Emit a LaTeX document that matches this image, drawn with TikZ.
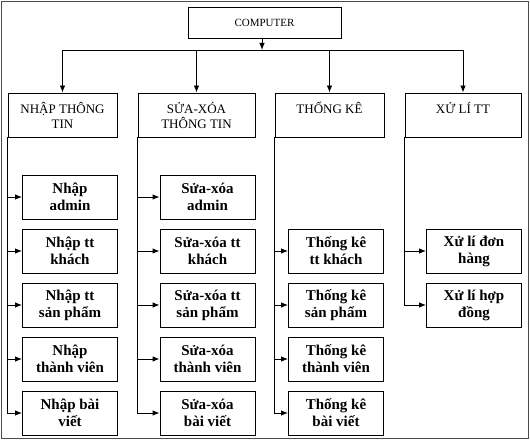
\documentclass[tikz,border=0pt]{standalone}
\usepackage{fontspec}
\setmainfont{Liberation Serif}
\usetikzlibrary{arrows.meta}
\tikzstyle{group}=[
        draw,
        line width=0.9pt,
        minimum width=109pt,
        minimum height=44pt,
        inner sep=0pt,
        align=center,
        font=\fontsize{13}{15}\selectfont
]
\tikzstyle{item}=[
        draw,
        line width=0.9pt,
        minimum width=95pt,
        minimum height=44pt,
        inner sep=0pt,
        align=center,
        font=\fontsize{15}{17}\selectfont\bfseries
]
\tikzstyle{link}=[
        line width=0.9pt,
        -{Latex[length=7pt,width=5.5pt]}
]

\begin{document}
\begin{tikzpicture}[x=1pt,y=-1pt]
                        \useasboundingbox (0,0) rectangle (530,441);
                        \draw[gray!60!black, line width=0.8pt] (1.5,1.5) rectangle (528,438);

                        \node[group, minimum width=153pt, minimum height=31pt, font=\fontsize{11}{13}\selectfont] (computer) at (264.5,22.5) {COMPUTER};
                        \coordinate (bus) at (262,50);

                        \node[group] (nhap) at (62.5,115) {NHẬP THÔNG\\TIN};
                        \node[group, minimum width=117pt] (sua) at (196.5,115) {SỬA-XÓA\\THÔNG TIN};
                        \node[group] (thongke) at (329.5,115) {THỐNG KÊ\\~};
                        \node[group, minimum width=116pt] (xuli) at (463,115) {XỬ LÍ TT\\~};

                        \draw[link] (computer.south -| bus) -- (bus);
                        \draw[line width=0.9pt] (nhap.north |- bus) -- (xuli.north |- bus);
                        \foreach \g in {nhap,sua,thongke,xuli} {
                            \draw[link] (\g.north |- bus) -- (\g.north);
                        }

                        \foreach \t [count=\i] in {{Nhập\\admin},{Nhập tt\\khách},{Nhập tt\\sản phẩm},{Nhập\\thành viên},{Nhập bài\\viết}} {
                            \node[item] (n\i) at (70,143+54*\i) {\t};
                            \draw[link] (nhap.south west) |- (n\i.west);
                        }

                        \foreach \t [count=\i] in {{Sửa-xóa\\admin},{Sửa-xóa tt\\khách},{Sửa-xóa tt\\sản phẩm},{Sửa-xóa\\thành viên},{Sửa-xóa\\bài viết}} {
                            \node[item] (s\i) at (207.5,143+54*\i) {\t};
                            \draw[link] (sua.south west) |- (s\i.west);
                        }

                        \foreach \t [count=\i from 2] in {{Thống kê\\tt khách},{Thống kê\\sản phẩm},{Thống kê\\thành viên},{Thống kê\\bài viết}} {
                            \node[item] (t\i) at (336,143+54*\i) {\t};
                            \draw[link] (thongke.south west) |- (t\i.west);
                        }

                        \foreach \t [count=\i from 2] in {{Xử lí đơn\\hàng},{Xử lí hợp\\đồng}} {
                            \node[item] (x\i) at (474,143+54*\i) {\t};
                            \draw[link] (xuli.south west) |- (x\i.west);
                        }

                    \end{tikzpicture}
\end{document}
